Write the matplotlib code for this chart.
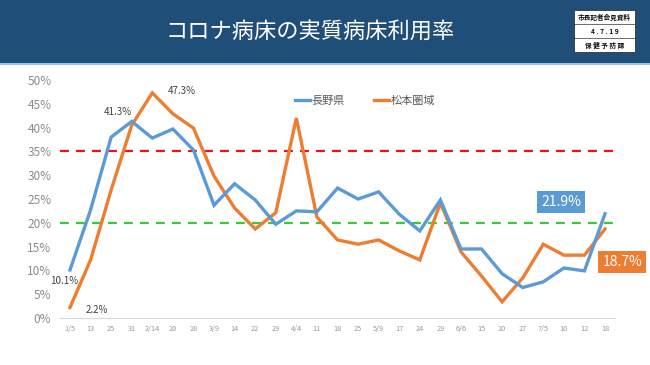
import matplotlib
matplotlib.use("Agg")
import matplotlib.pyplot as plt
from matplotlib.patches import Rectangle

plt.rcParams['font.family'] = ['Noto Sans CJK JP', 'DejaVu Sans']

categories = ["1/5", "13", "25", "31", "2/14", "20", "28", "3/9", "14", "22", "29",
              "4/4", "11", "18", "25", "5/9", "17", "24", "29", "6/6", "15", "20",
              "27", "7/5", "10", "12", "18"]
nagano = [10.1, 22.7, 38.0, 41.3, 37.8, 39.7, 35.3, 23.7, 28.2, 24.8, 19.7,
          22.5, 22.3, 27.3, 25.0, 26.5, 21.8, 18.3, 24.8, 14.5, 14.5, 9.3,
          6.4, 7.6, 10.5, 9.9, 21.9]
matsumoto = [2.2, 12.2, 26.9, 40.5, 47.3, 42.9, 39.9, 29.8, 23.1, 18.7, 22.1,
             42.0, 21.2, 16.4, 15.5, 16.4, 14.1, 12.2, 24.2, 13.9, 8.8, 3.4,
             8.4, 15.5, 13.2, 13.2, 18.7]
yticks = [0, 5, 10, 15, 20, 25, 30, 35, 40, 45, 50]
ref_high = 35
ref_low = 20

BLUE = "#5B9BD5"
ORANGE = "#ED7D31"
W, H = 650, 365

fig = plt.figure(figsize=(6.5, 3.65), dpi=100)
fig.patch.set_facecolor("white")

# header band
fig.patches.append(Rectangle((0, 1 - 63 / H), 1, 63 / H, transform=fig.transFigure,
                             facecolor="#1F4E79", edgecolor="none", zorder=0))
fig.patches.append(Rectangle((0, 1 - 65 / H), 1, 2 / H, transform=fig.transFigure,
                             facecolor="#9DC3E6", edgecolor="none", zorder=0))
fig.text(310 / W, 1 - 32 / H, "コロナ病床の実質病床利用率", color="white",
         fontsize=16, ha="center", va="center")

# stamp box
bx0, bx1 = 574 / W, 635 / W
rows = ["市長記者会見資料", "4 . 7 . 1 9", "保 健 予 防 課"]
rtop = 10
rh = 14
fig.patches.append(Rectangle((bx0, 1 - (rtop + 3 * rh) / H), bx1 - bx0, 3 * rh / H,
                             transform=fig.transFigure, facecolor="white",
                             edgecolor="#333333", lw=0.6, zorder=1))
for i, r in enumerate(rows):
    yc = 1 - (rtop + rh * i + rh / 2) / H
    fig.text((bx0 + bx1) / 2, yc, r, color="#111111", fontsize=4.8, fontweight="bold",
             ha="center", va="center", zorder=2)
    if i > 0:
        fig.lines.append(plt.Line2D([bx0, bx1], [1 - (rtop + rh * i) / H] * 2,
                                    transform=fig.transFigure, color="#333333", lw=0.5))

x0px, x1px = 59.7, 615.3
ybot, ytop = 318, 80
ax = fig.add_axes([x0px / W, 1 - ybot / H, (x1px - x0px) / W, (ybot - ytop) / H])
x = list(range(len(categories)))

ax.axhline(ref_high, color="#E8141A", lw=1.6, ls=(0, (4, 3.2)), zorder=1)
ax.axhline(ref_low, color="#33CC33", lw=1.6, ls=(0, (4, 3.2)), zorder=1)
ax.plot(x, nagano, color=BLUE, lw=2.4, label="長野県", zorder=3, clip_on=False,
        solid_joinstyle="miter")
ax.plot(x, matsumoto, color=ORANGE, lw=2.4, label="松本圏域", zorder=2, clip_on=False,
        solid_joinstyle="miter")

ax.set_xlim(-0.5, len(categories) - 0.5)
ax.set_ylim(0, 50)
ax.set_yticks(yticks)
ax.set_yticklabels([f"{v}%" for v in yticks], color="#8C8C8C", fontsize=8.5)
ax.set_xticks(x)
ax.set_xticklabels(categories, color="#999999", fontsize=5.3)
ax.tick_params(axis="both", length=0)
ax.tick_params(axis="y", pad=6)
ax.tick_params(axis="x", pad=5)
for s in ["top", "right", "left"]:
    ax.spines[s].set_visible(False)
ax.spines["bottom"].set_color("#D9D9D9")
ax.spines["bottom"].set_linewidth(0.8)

leg = ax.legend(loc="upper left", bbox_to_anchor=(0.405, 0.975), ncol=2, frameon=False,
                fontsize=8, handlelength=1.4, columnspacing=2.6, handletextpad=0.1)
for t in leg.get_texts():
    t.set_color("#595959")

lab = dict(fontsize=7, color="#404040", ha="center", va="center")
ax.annotate(f"{nagano[3]}%", (3, nagano[3]), xytext=(-10, 7), textcoords="offset points", **lab)
ax.annotate(f"{matsumoto[4]}%", (4, matsumoto[4]), xytext=(21, 1), textcoords="offset points", **lab)
ax.annotate(f"{nagano[0]}%", (0, nagano[0]), xytext=(-4, -8), textcoords="offset points", **lab)
ax.annotate(f"{matsumoto[0]}%", (0, matsumoto[0]), xytext=(19, -2), textcoords="offset points", **lab)

ax.annotate(f"{nagano[-1]}%", (26, nagano[-1]), xytext=(-31.5, 8.5), textcoords="offset points",
            fontsize=10, color="white", ha="center", va="center",
            bbox=dict(boxstyle="square,pad=0.3", facecolor=BLUE, edgecolor="none"))
ax.annotate(f"{matsumoto[-1]}%", (26, matsumoto[-1]), xytext=(12.5, -24), textcoords="offset points",
            fontsize=10, color="white", ha="center", va="center", annotation_clip=False,
            bbox=dict(boxstyle="square,pad=0.3", facecolor=ORANGE, edgecolor="none"))

fig.savefig("out.png", dpi=100)
